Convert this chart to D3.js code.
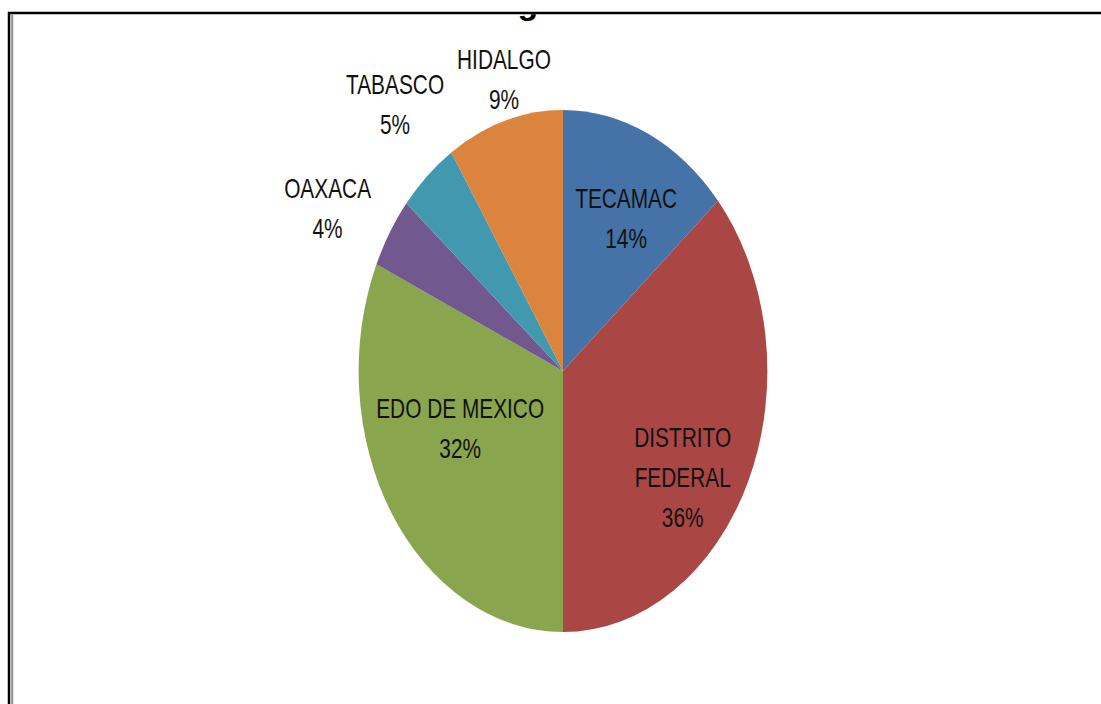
<!DOCTYPE html>
<html>
<head>
<meta charset="utf-8">
<script src="https://cdn.jsdelivr.net/npm/d3@7"></script>
<style>
  html, body { margin: 0; padding: 0; background: #fff; }
  svg { display: block; }
</style>
</head>
<body>
<svg id="chart" width="1101" height="704"></svg>
<script>
// ---- data ----
const categories = ["TECAMAC", "DISTRITO FEDERAL", "EDO DE MEXICO", "OAXACA", "TABASCO", "HIDALGO"];
const values = [13.7, 36.3, 31.7, 4.4, 4.7, 9.2];
const labelLines = [["TECAMAC"], ["DISTRITO", "FEDERAL"], ["EDO DE MEXICO"], ["OAXACA"], ["TABASCO"], ["HIDALGO"]];
const colors = ["#4572A7", "#AA4643", "#89A54E", "#71588F", "#4198AF", "#DB843D"];
const titleText = "g";

// ---- layout ----
const W = 1101, H = 704;
const cx = 563, cy = 371;
const R = 261;            // vertical radius
const sx = 0.783;         // horizontal squash of the pie
const textScale = 0.745;  // condensed text
const fontSize = 28;
const lineGap = 40;
// label placement per slice: radius ratio & angle nudge (degrees)
const labelRadius = [0.663, 0.713, 0.548, 1.31, 1.312, 1.157];
const labelNudge = [3.1, 10.1, 9.6, -3.6, 2.8, 2.1];

const svg = d3.select("#chart");

// frame
svg.append("line").attr("x1", 8).attr("x2", W).attr("y1", 13).attr("y2", 13)
  .attr("stroke", "#000").attr("stroke-width", 2.5);
svg.append("line").attr("x1", 9).attr("x2", 9).attr("y1", 12).attr("y2", H)
  .attr("stroke", "#000").attr("stroke-width", 2.5);
svg.append("line").attr("x1", 12.2).attr("x2", 12.2).attr("y1", 14.5).attr("y2", H)
  .attr("stroke", "#8e8e8e").attr("stroke-width", 2);

// clipped title remnant
const defs = svg.append("defs");
defs.append("clipPath").attr("id", "titleClip")
  .append("rect").attr("x", 0).attr("y", 14.3).attr("width", W).attr("height", 30);
svg.append("text")
  .attr("clip-path", "url(#titleClip)")
  .attr("x", 528).attr("y", 13.5)
  .attr("text-anchor", "middle")
  .attr("font-family", "'Liberation Sans', Arial, sans-serif")
  .attr("font-weight", "bold")
  .attr("font-size", 34)
  .attr("fill", "#000")
  .text(titleText);

// pie
const pie = d3.pie().sort(null).value(d => d)(values);
const arc = d3.arc().innerRadius(0).outerRadius(R);

const g = svg.append("g").attr("transform", `translate(${cx},${cy}) scale(${sx},1)`);
g.selectAll("path").data(pie).join("path")
  .attr("d", arc)
  .attr("fill", (d, i) => colors[i]);

// labels
const fmt = v => Math.round(v / d3.sum(values) * 100) + "%";
pie.forEach((d, i) => {
  const mid = (d.startAngle + d.endAngle) / 2 + labelNudge[i] * Math.PI / 180;
  const r = R * labelRadius[i];
  const la = d3.arc().innerRadius(r).outerRadius(r).startAngle(mid).endAngle(mid);
  const [px, py] = la.centroid();
  const x = cx + px * sx, y = cy + py;
  const lines = labelLines[i].concat([fmt(values[i])]);
  const total = 20 + lineGap * (lines.length - 1);
  const first = y - total / 2 + 20;
  const t = svg.append("g").attr("transform", `translate(${x},${first}) scale(${textScale},1)`);
  lines.forEach((ln, k) => {
    t.append("text")
      .attr("x", 0).attr("y", k * lineGap)
      .attr("text-anchor", "middle")
      .attr("font-family", "'Liberation Sans', Arial, sans-serif")
      .attr("font-size", fontSize)
      .attr("fill", "#111")
      .text(ln);
  });
});
</script>
</body>
</html>
